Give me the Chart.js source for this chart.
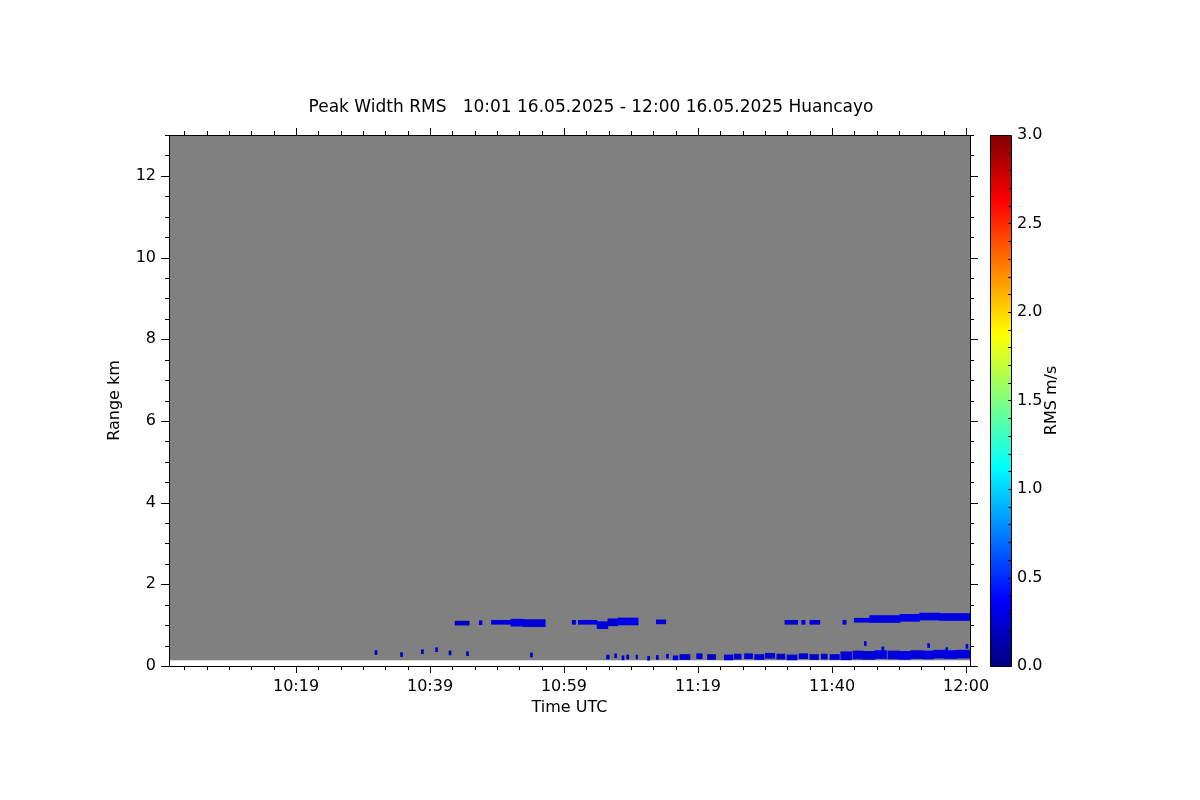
<!DOCTYPE html>
<html>
<head>
<meta charset="utf-8">
<title>Peak Width RMS Huancayo</title>
<script src="https://cdn.jsdelivr.net/npm/chart.js@4.4.1/dist/chart.umd.min.js"></script>
<style>
  body { margin: 0; background: #fff; }
  #wrap { width: 1200px; height: 800px; }
</style>
</head>
<body>
<div id="wrap"><canvas id="rms" width="1200" height="800"></canvas></div>
<script>
    "use strict";

    // Time in minutes after 10:00 UTC, range in km, RMS in m/s
    const timeMin = 1;
    const timeMax = 120;
    const rangeMax = 13;
    const firstGate = 0.14;
    const cbMin = 0;
    const cbMax = 3;

    const xTickMinutes = [19.87, 39.78, 59.68, 79.59, 99.50, 119.41];
    const xTickLabels = ["10:19", "10:39", "10:59", "11:19", "11:40", "12:00"];
    const yTicks = [0, 2, 4, 6, 8, 10, 12];

    // Layer near 1 km, thin parts
    const layerStart = [43.5, 47.1, 48.9, 60.9, 61.8, 73.4, 92.5, 95.0, 96.2, 101.1, 102.8];
    const layerEnd   = [45.6, 47.5, 51.8, 61.4, 64.6, 74.8, 94.4, 95.5, 97.7, 101.6, 105.1];
    const layerKm    = [1.05, 1.06, 1.07, 1.07, 1.07, 1.08, 1.07, 1.07, 1.07, 1.07, 1.12];
    const layerRms   = [0.20, 0.26, 0.27, 0.24, 0.28, 0.26, 0.22, 0.25, 0.24, 0.26, 0.28];

    // Layer near 1 km, thicker parts
    const thickStart = [51.8, 53.6, 64.6, 66.2, 67.7, 105.1, 109.6, 112.5, 115.5];
    const thickEnd   = [53.6, 56.9, 66.2, 67.7, 70.7, 109.6, 112.5, 115.5, 120.0];
    const thickKm    = [1.06, 1.05, 1.00, 1.07, 1.09, 1.15, 1.18, 1.21, 1.20];
    const thickRms   = [0.30, 0.26, 0.28, 0.25, 0.31, 0.29, 0.32, 0.30, 0.29];

    // Low band, thin part (11:17 - 11:40)
    const lowStart = [76.9, 79.4, 81.0, 83.5, 85.0, 86.5, 88.0, 89.6, 91.3, 92.8, 94.6, 96.2, 97.9, 99.2];
    const lowEnd   = [78.4, 80.2, 82.2, 84.8, 86.0, 87.7, 89.4, 91.0, 92.5, 94.3, 95.9, 97.5, 98.8, 100.6];
    const lowKm    = [0.22, 0.24, 0.22, 0.21, 0.23, 0.24, 0.22, 0.25, 0.23, 0.21, 0.24, 0.22, 0.23, 0.22];
    const lowRms   = [0.22, 0.25, 0.20, 0.27, 0.24, 0.28, 0.23, 0.26, 0.22, 0.27, 0.25, 0.21, 0.26, 0.24];

    // Low band, dense part (11:40 - 12:00)
    const bandStart = [100.8, 102.6, 104.1, 105.9, 107.8, 109.5, 111.2, 113.0, 114.6, 116.3, 118.0];
    const bandEnd   = [102.4, 104.1, 105.9, 107.6, 109.5, 111.2, 113.0, 114.6, 116.3, 118.0, 120.0];
    const bandKm    = [0.25, 0.27, 0.26, 0.28, 0.27, 0.26, 0.28, 0.27, 0.29, 0.28, 0.29];
    const bandRms   = [0.25, 0.28, 0.24, 0.29, 0.27, 0.30, 0.26, 0.29, 0.27, 0.30, 0.28];

    // Isolated low specks
    const speckStart = [31.6, 35.4, 38.5, 40.6, 42.6, 45.2, 54.7, 66.0, 67.2, 68.3, 69.0, 70.4, 72.1, 73.4, 74.9, 75.9, 104.3, 106.9, 113.7, 116.4, 119.4];
    const speckEnd   = [31.9, 35.7, 38.8, 40.9, 42.9, 45.5, 55.0, 66.4, 67.5, 68.6, 69.3, 70.6, 72.4, 73.7, 75.2, 76.6, 104.6, 107.2, 114.0, 116.7, 119.7];
    const speckKm    = [0.33, 0.28, 0.35, 0.40, 0.32, 0.30, 0.27, 0.22, 0.25, 0.20, 0.22, 0.22, 0.19, 0.21, 0.24, 0.20, 0.55, 0.42, 0.50, 0.40, 0.48];
    const speckRms   = [0.15, 0.22, 0.18, 0.26, 0.20, 0.17, 0.18, 0.24, 0.22, 0.26, 0.20, 0.16, 0.22, 0.26, 0.24, 0.27, 0.30, 0.25, 0.28, 0.26, 0.28];

    const FONT = "DejaVu Sans";
    Chart.defaults.font.family = FONT;
    Chart.defaults.color = "#000";

    // jet colour table
    function jet(v) {
        const t = Math.min(1, Math.max(0, (v - cbMin) / (cbMax - cbMin)));
        const c = (d) => Math.round(255 * Math.min(1, Math.max(0, 1.5 - Math.abs(4 * t - d))));
        return "rgb(" + c(3) + "," + c(2) + "," + c(1) + ")";
    }

    function cells(start, end, km, rms) {
        return start.map((s, i) => ({ x: [s, end[i]], y: km[i], rms: rms[i] }));
    }

    function cellSet(label, data, thickness) {
        return {
            label: label,
            data: data,
            barThickness: thickness,
            backgroundColor: (c) => c.raw ? jet(c.raw.rms) : "#0000ff",
            borderWidth: 0,
            borderSkipped: false,
            stack: "cells"
        };
    }

    // Gray "no data" area, frame, ticks and colour bar
    const frame = {
        id: "frame",
        beforeDatasetsDraw(chart) {
            const { ctx, scales: { x, y } } = chart;
            const x0 = x.getPixelForValue(timeMin), x1 = x.getPixelForValue(timeMax);
            const y0 = y.getPixelForValue(firstGate), y1 = y.getPixelForValue(rangeMax);
            ctx.save();
            ctx.fillStyle = "#808080";
            ctx.fillRect(x0, y1, x1 - x0, y0 - y1);
            ctx.restore();
        },
        afterDraw(chart) {
            const { ctx, chartArea: a, scales: { x, y, cb } } = chart;
            ctx.save();
            ctx.strokeStyle = "#000";
            ctx.lineWidth = 1;
            ctx.beginPath();
            ctx.rect(a.left + 0.5, a.top + 0.5, a.width, a.height);

            // time ticks, 6 minor steps per major
            const step = (xTickMinutes[1] - xTickMinutes[0]) / 6;
            let v0 = xTickMinutes[0];
            while (v0 - step >= timeMin) v0 -= step;
            for (let v = v0; v <= timeMax + 0.01; v += step) {
                const major = xTickMinutes.some((m) => Math.abs(m - v) < 0.05);
                const len = major ? 7 : 4;
                const px = Math.round(x.getPixelForValue(v)) + 0.5;
                ctx.moveTo(px, a.bottom); ctx.lineTo(px, a.bottom + len);
                ctx.moveTo(px, a.top); ctx.lineTo(px, a.top - len);
            }

            // range ticks every 0.5 km
            for (let v = 0; v <= rangeMax + 0.001; v += 0.5) {
                const len = (v % 2 === 0) ? 8 : 4;
                const py = Math.round(y.getPixelForValue(v)) + 0.5;
                ctx.moveTo(a.left - len, py); ctx.lineTo(a.left, py);
                ctx.moveTo(a.right, py); ctx.lineTo(a.right + len, py);
            }
            ctx.stroke();

            // colour bar
            const bx = a.right + 20, bw = 21;
            const top = cb.getPixelForValue(cbMax), bot = cb.getPixelForValue(cbMin);
            const grad = ctx.createLinearGradient(0, bot, 0, top);
            for (let i = 0; i <= 24; i++) {
                grad.addColorStop(i / 24, jet(cbMin + (cbMax - cbMin) * i / 24));
            }
            ctx.fillStyle = grad;
            ctx.fillRect(bx, top, bw, bot - top);
            ctx.beginPath();
            ctx.rect(bx + 0.5, top + 0.5, bw, bot - top);
            for (let v = 0.1; v < cbMax - 0.05; v += 0.1) {
                const py = Math.round(cb.getPixelForValue(v)) + 0.5;
                ctx.moveTo(bx + bw - 3, py); ctx.lineTo(bx + bw, py);
            }
            ctx.stroke();

            // colour bar title, reading upwards
            ctx.translate(cb.left + 82, (a.top + a.bottom) / 2);
            ctx.rotate(-Math.PI / 2);
            ctx.fillStyle = "#000";
            ctx.font = "16px '" + FONT + "'";
            ctx.textAlign = "center";
            ctx.textBaseline = "middle";
            ctx.fillText("RMS m/s", 0, 0);
            ctx.restore();
        }
    };

    new Chart(document.getElementById("rms"), {
        type: "bar",
        data: {
            datasets: [
                cellSet("layer", cells(layerStart, layerEnd, layerKm, layerRms), 4),
                cellSet("layer thick", cells(thickStart, thickEnd, thickKm, thickRms), 7),
                cellSet("low band thin", cells(lowStart, lowEnd, lowKm, lowRms), 5),
                cellSet("low band", cells(bandStart, bandEnd, bandKm, bandRms), 8),
                cellSet("specks", cells(speckStart, speckEnd, speckKm, speckRms), 4)
            ]
        },
        options: {
            responsive: false,
            animation: false,
            indexAxis: "y",
            layout: { padding: { left: 0, right: 18, top: 0, bottom: 0 } },
            plugins: {
                legend: { display: false },
                tooltip: { enabled: false },
                title: {
                    display: true,
                    text: "Peak Width RMS   10:01 16.05.2025 - 12:00 16.05.2025 Huancayo",
                    color: "#000",
                    font: { size: 17, weight: "normal" },
                    padding: { top: 97.8, bottom: 16.8 }
                }
            },
            scales: {
                x: {
                    type: "linear",
                    position: "bottom",
                    min: timeMin,
                    max: timeMax,
                    stacked: false,
                    grid: { display: false, drawTicks: false },
                    border: { display: false },
                    afterBuildTicks: (s) => { s.ticks = xTickMinutes.map((v) => ({ value: v })); },
                    ticks: {
                        autoSkip: false,
                        maxRotation: 0,
                        padding: 11,
                        font: { size: 16 },
                        callback: (v, i) => xTickLabels[i]
                    },
                    title: {
                        display: true,
                        text: "Time UTC",
                        font: { size: 16 },
                        padding: { top: 0, bottom: 82.4 }
                    },
                    afterFit: (s) => { s.height = 134; }
                },
                y: {
                    type: "linear",
                    position: "left",
                    min: 0,
                    max: rangeMax,
                    offset: false,
                    stacked: true,
                    grid: { display: false, drawTicks: false, offset: false },
                    border: { display: false },
                    afterBuildTicks: (s) => { s.ticks = yTicks.map((v) => ({ value: v })); },
                    ticks: { padding: 13, font: { size: 16 } },
                    title: {
                        display: true,
                        text: "Range km",
                        font: { size: 16 },
                        padding: { top: 105.4, bottom: 0 }
                    },
                    afterFit: (s) => { s.width = 169; }
                },
                cb: {
                    type: "linear",
                    axis: "y",
                    position: "right",
                    min: cbMin,
                    max: cbMax,
                    offset: false,
                    grid: { display: false, drawTicks: false, offset: false },
                    border: { display: false },
                    ticks: {
                        stepSize: 0.5,
                        padding: 47,
                        font: { size: 16 },
                        callback: (v) => v.toFixed(1)
                    },
                    afterFit: (s) => { s.width = 212; }
                }
            }
        },
        plugins: [frame]
    });
</script>
</body>
</html>
